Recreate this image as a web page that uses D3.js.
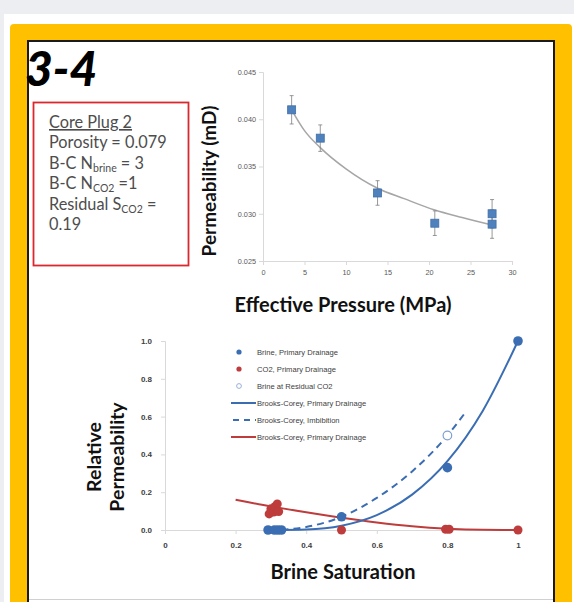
<!DOCTYPE html>
<html><head><meta charset="utf-8">
<script src="https://cdn.jsdelivr.net/npm/d3@7/dist/d3.min.js"></script>
<style>
html,body{margin:0;padding:0;background:#eceef1;}
svg{display:block;}
</style></head>
<body>
<svg id="c" width="574" height="602"></svg>
<script>
// ---------- DATA ----------
// Top chart: permeability vs effective pressure
const pressure = [3.45, 6.9, 13.8, 20.7, 27.6, 27.6];
const permeability = [0.0410, 0.0380, 0.0322, 0.0290, 0.0289, 0.0300];
const permError = [0.0015, 0.0014, 0.0013, 0.0013, 0.0015, 0.0015];
const trendP = [3.45, 5, 6.9, 10, 13.8, 17, 20.7, 24, 27.6];
const trendK = [0.0410, 0.0388, 0.0370, 0.03475, 0.0327, 0.0316, 0.0304, 0.0296, 0.0288];
const topXTicks = [0, 5, 10, 15, 20, 25, 30];
const topYTicks = [0.025, 0.030, 0.035, 0.040, 0.045];

// Bottom chart: relative permeability vs brine saturation
const brineS = [0.292, 0.31, 0.32, 0.33, 0.5, 0.8, 1.0];
const brineKr = [0, 0, 0, 0, 0.07, 0.33, 1.0];
const co2S = [0.295, 0.300, 0.308, 0.312, 0.318, 0.322, 0.5, 0.795, 0.805, 1.0];
const co2Kr = [0.085, 0.112, 0.095, 0.125, 0.138, 0.098, 0.0, 0.004, 0.004, 0.0];
const resS = [0.8];
const resKr = [0.5];
const bcDrainS = [0.3, 0.4, 0.5, 0.6, 0.7, 0.8, 0.9, 1.0];
const bcDrainKr = [0.0, 0.003, 0.023, 0.079, 0.187, 0.364, 0.630, 1.0];
const bcImbS = [0.33, 0.4, 0.5, 0.6, 0.7, 0.8, 0.85];
const bcImbKr = [0.0, 0.016, 0.07, 0.17, 0.31, 0.50, 0.62];
const bcCo2S = [0.2, 0.3, 0.4, 0.5, 0.6, 0.7, 0.8, 0.9, 1.0];
const bcCo2Kr = [0.16, 0.125, 0.094, 0.065, 0.040, 0.020, 0.007, 0.001, 0.0];
const botXTicks = [0, 0.2, 0.4, 0.6, 0.8, 1];
const botYTicks = [0, 0.2, 0.4, 0.6, 0.8, 1.0];
const legendLabels = ["Brine, Primary Drainage", "CO2, Primary Drainage", "Brine at Residual CO2",
  "Brooks-Corey, Primary Drainage", "Brooks-Corey, Imbibition", "Brooks-Corey, Primary Drainage"];

// ---------- FRAME ----------
const svg = d3.select("#c");
const BLUE = "#3b6db3", RED = "#be3c3c";
const TITLE_FONT = "Lato, 'Open Sans', sans-serif";
svg.append("rect").attr("x",4).attr("y",14).attr("width",570).attr("height",588).attr("fill","#ffffff");
svg.append("rect").attr("x",10).attr("y",24).attr("width",562).attr("height",590).attr("rx",4).attr("fill","#ffc000");
svg.append("rect").attr("x",28).attr("y",41).attr("width",526).attr("height",580).attr("fill","#ffffff")
   .attr("stroke","#1a1a1a").attr("stroke-width",2);
svg.append("line").attr("x1",29).attr("x2",553).attr("y1",599.5).attr("y2",599.5).attr("stroke","#d0d0d0");

svg.append("text").attr("x",25).attr("y",86).attr("font-family",TITLE_FONT)
   .attr("font-weight",900).attr("font-style","italic").attr("font-size",48).attr("fill","#000").text("3-4");

// info box
svg.append("rect").attr("x",33.5).attr("y",102.5).attr("width",155).attr("height",163)
   .attr("fill","#fff").attr("stroke","#d9282e").attr("stroke-width",1.8);
const info = svg.append("g").attr("font-family",TITLE_FONT).attr("font-size",16.3).attr("fill","#4d4d4d");
const lh = 20.4, ly0 = 128;
info.append("text").attr("x",49).attr("y",ly0).attr("text-decoration","underline").text("Core Plug 2");
info.append("text").attr("x",49).attr("y",ly0+lh).text("Porosity = 0.079");
let t = info.append("text").attr("x",49).attr("y",ly0+2*lh);
t.append("tspan").text("B-C N");
t.append("tspan").attr("font-size",10.5).attr("dy",3).text("brine");
t.append("tspan").attr("dy",-3).text(" = 3");
t = info.append("text").attr("x",49).attr("y",ly0+3*lh);
t.append("tspan").text("B-C N");
t.append("tspan").attr("font-size",10.5).attr("dy",3).text("CO2");
t.append("tspan").attr("dy",-3).text(" =1");
t = info.append("text").attr("x",49).attr("y",ly0+4*lh);
t.append("tspan").text("Residual S");
t.append("tspan").attr("font-size",10.5).attr("dy",3).text("CO2");
t.append("tspan").attr("dy",-3).text(" =");
info.append("text").attr("x",49).attr("y",ly0+5*lh).text("0.19");

// ---------- TOP CHART ----------
const xT = d3.scaleLinear().domain([0,30]).range([263,512]);
const yT = d3.scaleLinear().domain([0.025,0.045]).range([261,72]);
const gT = svg.append("g");
const axT = gT.append("g").attr("transform","translate(0,261)")
  .call(d3.axisBottom(xT).tickValues(topXTicks).tickSize(4).tickPadding(5).tickFormat(d3.format("d")));
const ayT = gT.append("g").attr("transform","translate(263,0)")
  .call(d3.axisLeft(yT).tickValues(topYTicks).tickSize(4).tickPadding(3).tickFormat(d3.format(".3f")));
[axT, ayT].forEach(a=>{
  a.selectAll("path,line").attr("stroke","#d9d9d9");
  a.selectAll("text").attr("fill","#595959").attr("font-size",7.3).attr("font-family","'Liberation Sans', Arial, sans-serif");
});
gT.append("path").datum(trendP.map((p,i)=>[p,trendK[i]]))
  .attr("d", d3.line().x(d=>xT(d[0])).y(d=>yT(d[1])).curve(d3.curveMonotoneX))
  .attr("fill","none").attr("stroke","#a6a6a6").attr("stroke-width",1.5);
const eb = gT.append("g").attr("stroke","#7f7f7f").attr("stroke-width",0.8);
pressure.forEach((p,i)=>{
  const x = xT(p), y1 = yT(permeability[i]+permError[i]), y2 = yT(permeability[i]-permError[i]);
  eb.append("line").attr("x1",x).attr("x2",x).attr("y1",y1).attr("y2",y2);
  eb.append("line").attr("x1",x-2).attr("x2",x+2).attr("y1",y1).attr("y2",y1);
  eb.append("line").attr("x1",x-2).attr("x2",x+2).attr("y1",y2).attr("y2",y2);
});
gT.selectAll("rect.sq").data(pressure.map((p,i)=>[p,permeability[i]])).enter().append("rect")
  .attr("x",d=>xT(d[0])-4).attr("y",d=>yT(d[1])-4).attr("width",8).attr("height",8)
  .attr("fill","#4f81bd").attr("stroke","#3f6ea8").attr("stroke-width",0.8);
gT.append("text").attr("transform","translate(216,181) rotate(-90)").attr("text-anchor","middle")
  .attr("font-family",TITLE_FONT).attr("font-weight",700).attr("font-size",19).attr("fill","#111")
  .text("Permeability (mD)");
gT.append("text").attr("x",343).attr("y",312).attr("text-anchor","middle")
  .attr("font-family",TITLE_FONT).attr("font-weight",700).attr("font-size",20).attr("fill","#111")
  .text("Effective Pressure (MPa)");

// ---------- BOTTOM CHART ----------
const xB = d3.scaleLinear().domain([0,1]).range([165,518]);
const yB = d3.scaleLinear().domain([0,1]).range([530,341]);
const gB = svg.append("g");
const axB = gB.append("g").attr("transform","translate(0,530)")
  .call(d3.axisBottom(xB).tickValues(botXTicks).tickSize(4).tickPadding(8).tickFormat(d=>d===0?"0":d===1?"1":d3.format(".1f")(d)));
const ayB = gB.append("g").attr("transform","translate(165,0)")
  .call(d3.axisLeft(yB).tickValues(botYTicks).tickSize(4).tickPadding(9).tickFormat(d3.format(".1f")));
[axB, ayB].forEach(a=>{
  a.selectAll("path,line").attr("stroke","#d9d9d9");
  a.selectAll("text").attr("fill","#404040").attr("font-size",8).attr("font-weight",700)
   .attr("font-family","'Liberation Sans', Arial, sans-serif");
});
const lineB = d3.line().x(d=>xB(d[0])).y(d=>yB(d[1])).curve(d3.curveMonotoneX);
gB.append("path").datum(bcCo2S.map((s,i)=>[s,bcCo2Kr[i]])).attr("d",lineB)
  .attr("fill","none").attr("stroke",RED).attr("stroke-width",2);
gB.append("path").datum(bcDrainS.map((s,i)=>[s,bcDrainKr[i]])).attr("d",lineB)
  .attr("fill","none").attr("stroke",BLUE).attr("stroke-width",2);
gB.append("path").datum(bcImbS.map((s,i)=>[s,bcImbKr[i]])).attr("d",lineB)
  .attr("fill","none").attr("stroke",BLUE).attr("stroke-width",2).attr("stroke-dasharray","7,5");
gB.selectAll("circle.co2").data(co2S.map((s,i)=>[s,co2Kr[i]])).enter().append("circle")
  .attr("cx",d=>xB(d[0])).attr("cy",d=>yB(d[1])).attr("r",4.5).attr("fill",RED);
gB.selectAll("circle.br").data(brineS.map((s,i)=>[s,brineKr[i]])).enter().append("circle")
  .attr("cx",d=>xB(d[0])).attr("cy",d=>yB(d[1])).attr("r",4.8).attr("fill",BLUE);
gB.selectAll("circle.res").data(resS.map((s,i)=>[s,resKr[i]])).enter().append("circle")
  .attr("cx",d=>xB(d[0])).attr("cy",d=>yB(d[1])).attr("r",4.3).attr("fill","#fff")
  .attr("stroke","#7f9fd0").attr("stroke-width",1.2);

// legend
const lg = gB.append("g").attr("font-family","'Liberation Sans', Arial, sans-serif").attr("font-size",7.6).attr("fill","#404040");
const legY = [352, 369, 386, 403, 420, 437];
legendLabels.forEach((lab,i)=>{
  const y = legY[i];
  if (i===0) lg.append("circle").attr("cx",239).attr("cy",y).attr("r",2.6).attr("fill",BLUE);
  if (i===1) lg.append("circle").attr("cx",239).attr("cy",y).attr("r",2.6).attr("fill",RED);
  if (i===2) lg.append("circle").attr("cx",239).attr("cy",y).attr("r",2.4).attr("fill","#fff").attr("stroke","#8fa8d4").attr("stroke-width",0.9);
  if (i===3) lg.append("line").attr("x1",231).attr("x2",256).attr("y1",y).attr("y2",y).attr("stroke",BLUE).attr("stroke-width",2);
  if (i===4) lg.append("line").attr("x1",233).attr("x2",256).attr("y1",y).attr("y2",y).attr("stroke",BLUE).attr("stroke-width",2).attr("stroke-dasharray","6,5");
  if (i===5) lg.append("line").attr("x1",231).attr("x2",256).attr("y1",y).attr("y2",y).attr("stroke",RED).attr("stroke-width",2);
  lg.append("text").attr("x",257).attr("y",y).attr("dy","0.35em").text(lab);
});

gB.append("text").attr("transform","translate(101,457) rotate(-90)").attr("text-anchor","middle")
  .attr("font-family",TITLE_FONT).attr("font-weight",700).attr("font-size",19.5).attr("fill","#111")
  .text("Relative");
gB.append("text").attr("transform","translate(124,457) rotate(-90)").attr("text-anchor","middle")
  .attr("font-family",TITLE_FONT).attr("font-weight",700).attr("font-size",19.5).attr("fill","#111")
  .text("Permeability");
gB.append("text").attr("x",343).attr("y",579).attr("text-anchor","middle")
  .attr("font-family",TITLE_FONT).attr("font-weight",700).attr("font-size",20).attr("fill","#111")
  .text("Brine Saturation");
</script>
</body></html>
